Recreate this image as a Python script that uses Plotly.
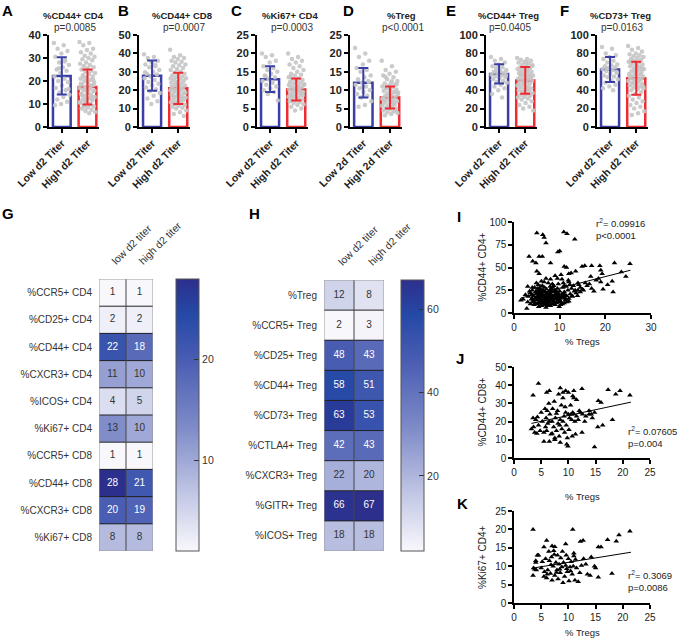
import plotly.graph_objects as go

W, H = 680, 639
FONT = "Liberation Sans, Arial, Helvetica, sans-serif"
BLUE = "#3A3EA5"
RED = "#EE2B31"
DOT = "#C5C5C5"
INK = "#222222"


def px(x):
    return x / W


def py(y):
    return (H - y) / H


# ---------------- data: bar panels A-F ----------------
bar_titles = ["%CD44+ CD4", "%CD44+ CD8", "%Ki67+ CD4", "%Treg", "%CD44+ Treg", "%CD73+ Treg"]
bar_pvals = ["p=0.0085", "p=0.0007", "p=0.0003", "p&lt;0.0001", "p=0.0405", "p=0.0163"]
bar_ticklabels = [
    ["Low d2 Titer", "High d2 Titer"],
    ["Low d2 Titer", "High d2 Titer"],
    ["Low d2 Titer", "High d2 Titer"],
    ["Low 2d Titer", "High 2d Titer"],
    ["Low d2 Titer", "High d2 Titer"],
    ["Low d2 Titer", "High d2 Titer"],
]
mean_low = [22.2, 27.9, 13.0, 12.0, 57.7, 62.5]
mean_high = [17.4, 21.0, 10.2, 8.0, 50.6, 53.0]
sd_low = [8.1, 8.2, 3.5, 4.0, 10.5, 13.5]
sd_high = [7.6, 8.5, 3.0, 3.0, 14.5, 18.0]
y_max = [40, 50, 25, 25, 100, 100]
y_dtick = [10, 10, 5, 5, 20, 20]

A_low = [36.5, 35.5, 34, 33, 32, 30.5, 29, 28, 27, 26, 25, 24.5, 23.5, 22, 21, 20, 19.5, 18, 17, 16, 15, 14, 13, 12, 11, 10, 9.5, 28.5, 25.5, 16.5]
A_high = [37, 36.5, 35.5, 34, 33.5, 32.5, 32, 31, 30.5, 30, 29.5, 29, 28, 27.5, 27, 26.5, 26, 25.5, 25, 24.5, 24, 23.5, 23, 22.5, 22, 21.5, 21, 20.5, 20, 19.5, 19, 18.5, 18, 17.5, 17, 16.5, 16, 15.5, 15, 14.5, 14, 13.5, 13, 12.5, 12, 11.5, 11, 10.5, 10, 9.5, 9, 8.5, 8, 7.5, 7, 6.5, 6, 21.8, 20.8, 19.8, 18.8, 17.8, 16.8, 15.8, 14.8, 13.8, 12.8, 11.8, 10.8, 9.8, 8.8, 18.3, 16.3, 14.3, 12.3, 10.3]
B_low = [39.5, 38, 37.5, 36, 35, 34, 33, 32.5, 31, 30, 29, 28.5, 27.5, 26.5, 25.5, 24.5, 23.5, 22.5, 21.5, 20.5, 19.5, 18.5, 17, 15.5, 14, 12.5, 29.8, 33.8]
B_high = [42, 39, 38, 37.5, 37, 36, 35.5, 35, 34, 33.5, 33, 32, 31.5, 31, 30, 29.5, 29, 28.5, 28, 27.5, 27, 26.5, 26, 25.5, 25, 24.5, 24, 23.5, 23, 22.5, 22, 21.5, 21, 20.5, 20, 19.5, 19, 18.5, 18, 17.5, 17, 16.5, 16, 15.5, 15, 14.5, 14, 13.5, 13, 12.5, 12, 11.5, 11, 10.5, 10, 9, 8, 7, 6, 22.8, 21.8, 20.8, 19.8, 18.8, 17.8, 16.8, 15.8, 24.3, 26.3, 14.3, 12.8]
C_low = [20, 19.5, 19, 18, 17.5, 16.5, 16, 15.5, 15, 14.5, 14, 13.5, 13, 12.5, 12, 11.5, 11, 10.5, 10, 9.5, 9, 7.2, 12.2, 13.8]
C_high = [20, 19, 18.5, 18, 17.5, 17, 16.5, 16, 15.5, 15, 14.5, 14.2, 14, 13.5, 13.2, 13, 12.8, 12.5, 12.2, 12, 11.8, 11.5, 11.2, 11, 10.8, 10.5, 10.2, 10, 9.8, 9.5, 9.2, 9, 8.8, 8.5, 8.2, 8, 7.8, 7.5, 7.2, 7, 6.8, 6.5, 6.2, 6, 5.5, 5, 4.5, 11.4, 10.6, 9.6, 8.6, 12.6, 13.6, 9.4, 10.4, 11.6, 7.6, 8.4]
D_low = [21.5, 20, 19, 18, 17, 16, 15.5, 15, 14, 13.5, 13, 12.5, 12, 11.5, 11, 10.5, 10, 9.5, 9, 8.5, 8, 7, 6, 5.5, 12.2, 10.8]
D_high = [18, 16.5, 15.5, 15, 14.5, 14, 13.5, 13, 12.5, 12, 11.8, 11.5, 11.2, 11, 10.8, 10.5, 10.2, 10, 9.8, 9.5, 9.2, 9, 8.8, 8.5, 8.2, 8, 7.8, 7.5, 7.2, 7, 6.8, 6.5, 6.2, 6, 5.8, 5.5, 5.2, 5, 4.8, 4.5, 4.2, 4, 3.8, 3.5, 3.2, 9.6, 8.6, 7.6, 6.6, 10.6, 11.6, 8.4, 7.4, 6.4, 5.4, 9.4, 12.4, 13.6, 4.6]
E_low = [76, 74, 72, 70, 68, 66, 65, 64, 62, 61, 60, 59, 58, 57, 56, 55, 54, 53, 52, 50, 49, 48, 46, 44, 42, 40, 36, 32, 60.5, 56.5]
E_high = [75, 74, 73, 72, 71, 70, 69, 68, 67, 66, 65, 64, 63.5, 63, 62, 61, 60, 59, 58.5, 58, 57, 56, 55.5, 55, 54, 53, 52.5, 52, 51, 50, 49, 48, 47, 46, 45, 44, 43, 42, 41, 40, 39, 38, 37, 36, 35, 34, 33, 32, 31, 30, 28, 26, 24, 22, 20, 18, 61.5, 57.5, 53.5, 49.5, 45.5, 41.5, 37.5, 66.5, 70.5, 59.5, 55.2, 47.5]
F_low = [87, 85, 80, 78, 76, 74, 72, 70, 68, 67, 66, 65, 64, 63, 62, 61, 60, 58, 56, 55, 54, 52, 50, 48, 46, 44, 42, 40, 63.5, 59]
F_high = [88, 86, 84, 82, 80, 79, 78, 77, 76, 75, 74, 73, 72, 71, 70, 69, 68, 67, 66, 65, 64, 63, 62, 61, 60, 59, 58, 57, 56, 55, 54, 53, 52, 51, 50, 49, 48, 47, 46, 45, 44, 43, 42, 41, 40, 38, 36, 34, 32, 30, 28, 26, 24, 22, 20, 17, 15, 13, 63.5, 59.5, 55.5, 51.5, 47.5, 43.5, 66.5, 70.5, 57.5, 61.8]
points_low = [A_low, B_low, C_low, D_low, E_low, F_low]
points_high = [A_high, B_high, C_high, D_high, E_high, F_high]

# ---------------- data: heatmaps G, H ----------------
heat_cols = ["low d2 titer", "high d2 titer"]
G_rows = ["%CCR5+ CD4", "%CD25+ CD4", "%CD44+ CD4", "%CXCR3+ CD4", "%ICOS+ CD4",
          "%Ki67+ CD4", "%CCR5+ CD8", "%CD44+ CD8", "%CXCR3+ CD8", "%Ki67+ CD8"]
G_low = [1, 2, 22, 11, 4, 13, 1, 28, 20, 8]
G_high = [1, 2, 18, 10, 5, 10, 1, 21, 19, 8]
G_ticks = [10, 20]
H_rows = ["%Treg", "%CCR5+ Treg", "%CD25+ Treg", "%CD44+ Treg", "%CD73+ Treg",
          "%CTLA4+ Treg", "%CXCR3+ Treg", "%GITR+ Treg", "%ICOS+ Treg"]
H_low = [12, 2, 48, 58, 63, 42, 22, 66, 18]
H_high = [8, 3, 43, 51, 53, 43, 20, 67, 18]
H_ticks = [20, 40, 60]

# ---------------- data: scatter panels I, J, K ----------------
I_x = [5, 6.3, 6.6, 7, 10.9, 11.6, 13.3, 9.6, 10, 3.3, 4.1, 5.5, 6.2, 4.8, 8, 11, 11.5, 14.9, 15.5, 17, 18.8, 22, 25.4, 19, 19.3, 13.5, 10.3, 12, 12.5, 9, 5, 5.5, 7, 8, 3, 4, 6, 9.5, 10.5, 14, 14.5, 15, 16, 16.5, 17, 18, 19, 19.5, 21.5, 21.7, 14, 13, 12, 11, 2, 2.5, 1.5, 3, 2.8, 7, 8, 9, 10, 11, 12,
       3.2, 3.5, 3.8, 4.0, 4.1, 4.3, 4.5, 4.6, 4.8, 5.0, 5.0, 5.1, 5.2, 5.3, 5.4, 5.5, 5.6, 5.7, 5.8, 5.9, 6.0, 6.0, 6.1, 6.2, 6.3, 6.4, 6.5, 6.6, 6.7, 6.8, 6.9, 7.0, 7.0, 7.1, 7.2, 7.3, 7.4, 7.5, 7.5, 7.6, 7.7, 7.8, 7.9, 8.0, 8.1, 8.2, 8.3, 8.4, 8.5, 8.6, 8.7, 8.8, 8.9, 9.0, 9.1, 9.2, 9.3, 9.4, 9.5, 9.6, 9.8, 10.0, 10.1, 10.3, 10.5, 10.7, 10.9, 11.0, 11.2, 11.5, 11.8, 12.0, 12.3,
       6.2, 6.8, 7.3, 5.6, 8.1, 7.8, 6.5, 5.2, 4.7, 9.5, 8.8, 7.1, 6.1, 5.4, 4.4, 3.6, 10.2, 9.7, 6.6, 5.8, 4.9, 3.9, 7.9, 8.4, 11.4, 12.6, 13.2, 12.8, 11.6, 10.6, 9.9, 13.6, 14.5, 15.2, 13.9, 10.8, 11.9, 12.2,
       4.2, 4.9, 5.3, 5.7, 6.1, 6.4, 6.9, 7.2, 7.6, 8.0, 8.3, 8.7, 9.1, 9.4, 9.9, 10.4, 10.8, 11.3, 5.1, 5.9, 6.3, 6.7, 7.4, 7.9, 8.2, 8.6, 9.0, 9.8, 10.6, 11.1, 4.6, 5.5, 6.0, 6.8, 7.7, 8.5, 9.3, 10.0, 3.4, 4.0, 12.7, 13.4, 14.2, 15.6, 16.8, 17.5, 18.5, 20.5, 23.5, 24.5]
I_y = [88, 86, 83, 77, 89, 87, 81, 67, 68, 62, 57, 62, 62, 55, 55, 51, 50, 51, 52, 52, 52, 55, 54, 47, 43, 46, 42, 43, 44, 41, 46, 43, 38, 37, 29, 28, 35, 38, 37, 33, 28, 26, 30, 32, 27, 36, 34, 26, 35, 23, 25, 30, 34, 30, 15, 20, 14, 12, 5, 6, 8, 9, 14, 11, 13,
       18, 22, 15, 25, 12, 19, 28, 16, 21, 10, 14, 24, 18, 31, 12, 20, 27, 15, 22, 9, 17, 25, 13, 30, 19, 11, 23, 16, 28, 14, 20, 10, 18, 26, 13, 22, 16, 33, 8, 19, 24, 12, 17, 21, 27, 14, 10, 19, 23, 16, 30, 12, 20, 25, 15, 18, 11, 22, 27, 14, 19, 24, 16, 12, 21, 28, 17, 23, 14, 19, 25, 16, 21,
       20.5, 17.5, 15, 18.5, 18.2, 21.5, 13.5, 16.5, 23, 17, 24, 11.5, 8, 7, 9, 10, 9, 32, 34, 29, 33, 20.5, 29, 32, 29, 27, 24, 18, 12, 10, 7, 22, 23, 25, 19, 33, 36, 31,
       14, 17, 22, 11, 19, 25, 14, 21, 10, 17, 24, 13, 19, 23, 12, 18, 21, 16, 27, 13, 23, 9, 18, 15, 26, 11, 20, 21, 17, 20, 11, 24, 15, 23, 13, 28, 17, 12, 24, 16, 19, 25, 31, 33, 40, 24, 38, 31, 45, 40]
I_fit_x = [1.5, 25.5]
I_fit_y = [16.5, 47]

J_x = [4.5, 3.5, 6, 6.5, 8.5, 9, 9.5, 10, 11, 12.5, 17.3, 18.7, 19.5, 21.3, 15.5, 16, 18.1, 14.8, 9.9, 9.7, 5.5, 6.5, 7.5, 8.5, 10.7, 11.3, 12.5, 13, 13.8, 14.4, 14.8, 15.4, 16.3, 12, 11.5, 11, 10.5, 10.8,
       3.2, 3.5, 3.8, 4.0, 4.2, 4.5, 4.8, 5.0, 5.2, 5.5, 5.7, 5.9, 6.0, 6.2, 6.4, 6.6, 6.8, 7.0, 7.1, 7.3, 7.5, 7.6, 7.8, 8.0, 8.1, 8.3, 8.5, 8.7, 8.8, 9.0, 9.2, 9.3, 9.5, 9.6, 9.8, 10.0, 10.2, 10.4, 10.6, 10.8, 11.0, 11.2, 11.5, 11.8, 12.2, 12.6, 13.2, 13.8, 14.2, 7.0, 6.5, 5.8, 8.4, 7.8, 9.0, 10.1, 3.6, 4.3, 6.1, 9.4, 7.4, 8.2]
J_y = [41, 34.5, 36, 37, 38.5, 36, 37, 36, 37, 38, 37.5, 35, 37, 34.5, 31.5, 30.5, 21, 6, 6.5, 7.5, 9, 9, 10, 8.5, 12, 13, 14, 20, 24, 22, 25, 17, 18, 26, 32, 33, 24, 25,
       16, 22, 14, 21, 13.5, 18, 15, 25, 20, 14, 27, 22, 15, 19, 30, 24, 13, 20, 27, 17, 11, 22, 15, 26, 19, 12, 21, 29, 16, 33, 23, 14, 25, 18, 11, 24, 22, 29, 21, 34, 24, 20, 23, 21, 25, 24, 23, 26, 24, 13.5, 20, 17, 18, 24.5, 20, 15.5, 17, 22.5, 26, 28, 31, 35]
J_fit_x = [3.2, 21.5]
J_fit_y = [19, 30.7]

K_x = [3.5, 10.8, 21.3, 19.3, 18.8, 17.2, 15.5, 16, 12.2, 12.7, 14.2, 14.8, 15, 15.5, 14, 18, 6, 7, 7.5, 5.5, 9.5, 11, 11.3, 4.3, 4, 3.5, 3.8, 4.1,
       3.6, 4.0, 4.5, 5.0, 5.2, 5.5, 5.8, 6.0, 6.2, 6.4, 6.5, 6.7, 6.9, 7.0, 7.2, 7.4, 7.5, 7.7, 7.9, 8.0, 8.1, 8.3, 8.5, 8.6, 8.8, 9.0, 9.1, 9.3, 9.5, 9.6, 9.8, 10.0, 10.1, 10.3, 10.5, 10.7, 10.9, 11.2, 11.5, 11.8, 12.1, 12.4, 12.8, 13.2, 13.5, 7.8, 8.4, 6.8, 9.7, 10.4, 7.3, 8.9, 11.0, 6.1, 5.6]
K_y = [20, 20, 19.5, 18.5, 16.8, 17.2, 15.2, 15.2, 16.7, 17, 12.5, 10, 9.5, 7, 7.5, 8, 17, 15.5, 15.3, 15.2, 16, 13.5, 11.8, 13, 11, 7.5, 9.2, 9,
       9.5, 11.5, 13, 9.5, 11.2, 7.2, 12, 6.8, 9, 14, 11.5, 8, 12.5, 6.2, 10, 13.2, 7.5, 11, 9, 13, 6.5, 10.5, 8.2, 12.2, 9.8, 5.5, 11, 7.2, 10.2, 13, 8.5, 12, 6, 9.8, 11.2, 7.8, 10, 6.2, 9.5, 5.8, 8.2, 10.2, 12, 10.5, 7.8, 8.3, 9.2, 10.4, 9.3, 8.7, 14.2, 14, 12.8, 7.8, 8.5]
K_fit_x = [3.5, 21.5]
K_fit_y = [9.5, 13.8]

colorscale = [[0.0, "#F8F8FC"], [0.2, "#C4C9E6"], [0.45, "#7F8CC8"],
              [0.7, "#4A5DB3"], [0.87, "#2549A6"], [1.0, "#2D2F8C"]]

fig = go.Figure()
layout = {}
annotations = []
shapes = []


def note(x, y, text, size, color=INK, xanchor="center", yanchor="middle", **kw):
    annotations.append(dict(x=px(x), y=py(y), xref="paper", yref="paper", text=text,
                            showarrow=False, xanchor=xanchor, yanchor=yanchor,
                            font=dict(family=FONT, size=size, color=color), **kw))


# ---------------- bar panels ----------------
bar_xdom = [(49, 99), (139, 190), (257, 308), (350, 402), (486, 537), (597, 648)]
title_cx = [73, 182, 290, 401, 508, 620]
letters_top = [("A", 7), ("B", 123), ("C", 236), ("D", 348), ("E", 451), ("F", 564)]


def jitter(n, spread=0.62):
    return [((i * 0.618034) % 1.0 - 0.5) * spread for i in range(n)]


for k in range(6):
    n = k + 1
    xa = "x" if n == 1 else f"x{n}"
    ya = "y" if n == 1 else f"y{n}"
    fig.add_trace(go.Bar(
        x=[0, 1], y=[mean_low[k], mean_high[k]], width=0.69,
        marker=dict(color="white", line=dict(color=[BLUE, RED], width=2.5)),
        xaxis=xa, yaxis=ya, hoverinfo="skip"))
    for g, pts in enumerate([points_low[k], points_high[k]]):
        off = jitter(len(pts))
        fig.add_trace(go.Scatter(
            x=[g + o for o in off], y=pts, mode="markers",
            marker=dict(color=DOT, size=4.5, opacity=0.9),
            xaxis=xa, yaxis=ya, hoverinfo="skip"))
    for g, (m, s, c) in enumerate([(mean_low[k], sd_low[k], BLUE), (mean_high[k], sd_high[k], RED)]):
        fig.add_trace(go.Scatter(
            x=[g], y=[m], mode="markers", marker=dict(size=1, color="rgba(0,0,0,0)"),
            error_y=dict(type="data", array=[s], color=c, thickness=2, width=5),
            xaxis=xa, yaxis=ya, hoverinfo="skip"))
    x0, x1 = bar_xdom[k]
    layout["xaxis" if n == 1 else f"xaxis{n}"] = dict(
        domain=[px(x0), px(x1)], range=[-0.5, 1.45], anchor=ya,
        tickvals=[0, 1], ticktext=bar_ticklabels[k], tickangle=-45,
        showline=True, linecolor="black", linewidth=2, ticks="outside",
        ticklen=4, tickwidth=1.5, tickcolor="black", showgrid=False, zeroline=False,
        tickfont=dict(family=FONT, size=10.5, color=INK, weight="bold"), automargin=False)
    layout["yaxis" if n == 1 else f"yaxis{n}"] = dict(
        domain=[py(127), py(35)], range=[0, y_max[k]], dtick=y_dtick[k], anchor=xa,
        showline=True, linecolor="black", linewidth=2, ticks="outside",
        ticklen=4, tickwidth=1.5, tickcolor="black", showgrid=False, zeroline=False,
        tickfont=dict(family=FONT, size=11, color=INK, weight="bold"), automargin=False)
    note(title_cx[k], 15, f"<b>{bar_titles[k]}</b>", 9.5)
    note(title_cx[k] + 2, 28, bar_pvals[k], 10, color="#333")
    lt, lx = letters_top[k]
    note(lx, 10, f"<b>{lt}</b>", 15, color="black")


# ---------------- heatmaps ----------------
def add_heat(n, rows, low, high, ticks, xdom, ytop, ybot, cbx, cbtop, cbbot):
    xa, ya = f"x{n}", f"y{n}"
    z = [[a, b] for a, b in zip(low, high)]
    zmin = min(low + high)
    zmax = max(low + high)
    nr = len(rows)
    fig.add_trace(go.Heatmap(
        z=z, x=[0, 1], y=list(range(nr)), colorscale=colorscale, zmin=zmin, zmax=zmax,
        xaxis=xa, yaxis=ya, hoverinfo="skip",
        colorbar=dict(x=px(cbx), xanchor="left", xpad=0, y=py((cbtop + cbbot) / 2),
                      yanchor="middle", ypad=0, len=(cbbot - cbtop) / H, lenmode="fraction",
                      thickness=23, thicknessmode="pixels", outlinewidth=1, outlinecolor="#555",
                      ticks="inside", ticklen=5, tickcolor="#333", tickvals=ticks,
                      tickfont=dict(family=FONT, size=10.5, color="#333"))))
    # matching tick marks on the left edge of the colour bar
    for v in ticks:
        yy = cbbot - (v - zmin) / (zmax - zmin) * (cbbot - cbtop)
        shapes.append(dict(type="line", xref="paper", yref="paper", x0=px(cbx), x1=px(cbx + 5),
                           y0=py(yy), y1=py(yy), line=dict(color="#333", width=1)))
    tx, ty, tt, tc = [], [], [], []
    for i in range(nr):
        for j, v in enumerate([low[i], high[i]]):
            tx.append(j)
            ty.append(i)
            tt.append(str(v))
            tc.append("white" if (v - zmin) / (zmax - zmin) > 0.55 else "#333")
    fig.add_trace(go.Scatter(x=tx, y=ty, text=tt, mode="text", textposition="middle center",
                             textfont=dict(family=FONT, size=10, color=tc),
                             xaxis=xa, yaxis=ya, hoverinfo="skip"))
    layout[f"xaxis{n}"] = dict(domain=[px(xdom[0]), px(xdom[1])], range=[-0.5, 1.5], anchor=ya,
                               side="top", tickvals=[0, 1], ticktext=heat_cols, tickangle=-45,
                               ticks="outside", ticklen=7, tickcolor="rgba(0,0,0,0)",
                               showline=False, showgrid=False, zeroline=False,
                               tickfont=dict(family=FONT, size=10.5, color="#333"), automargin=False)
    layout[f"yaxis{n}"] = dict(domain=[py(ybot), py(ytop)], range=[nr - 0.5, -0.5], anchor=xa,
                               tickvals=list(range(nr)), ticktext=rows,
                               ticks="outside", ticklen=4, tickcolor="rgba(0,0,0,0)",
                               showline=False, showgrid=False, zeroline=False,
                               tickfont=dict(family=FONT, size=10, color="#333"), automargin=False)
    for i in range(nr - 1):
        shapes.append(dict(type="line", xref=xa, yref=ya, x0=-0.5, x1=1.5, y0=i + 0.5, y1=i + 0.5,
                           line=dict(color="#222", width=1)))
    shapes.append(dict(type="line", xref=xa, yref=ya, x0=0.5, x1=0.5, y0=-0.5, y1=nr - 0.5,
                       line=dict(color="#444", width=1)))
    shapes.append(dict(type="rect", xref=xa, yref=ya, x0=-0.5, x1=1.5, y0=-0.5, y1=nr - 0.5,
                       line=dict(color="#999", width=1)))


add_heat(7, G_rows, G_low, G_high, G_ticks, (99, 153), 279, 551, 176, 279, 551)
add_heat(8, H_rows, H_low, H_high, H_ticks, (324, 384), 280, 551, 401, 280, 551)
note(8, 213, "<b>G</b>", 15, color="black")
note(254, 213, "<b>H</b>", 15, color="black")


# ---------------- scatter panels ----------------
def add_scatter(n, xs, ys, fx, fy, xr, xd, yr, yd, xdom, ytop, ybot, ytitle, xt_y,
                stat_txt, stat_pos, letter, lx, ly):
    xa, ya = f"x{n}", f"y{n}"
    fig.add_trace(go.Scatter(x=xs, y=ys, mode="markers",
                             marker=dict(symbol="triangle-up", size=5, color="black"),
                             xaxis=xa, yaxis=ya, hoverinfo="skip", cliponaxis=False))
    fig.add_trace(go.Scatter(x=fx, y=fy, mode="lines", line=dict(color="black", width=1),
                             xaxis=xa, yaxis=ya, hoverinfo="skip"))
    common = dict(showline=True, linecolor="black", linewidth=1.5, ticks="outside", ticklen=4,
                  tickwidth=1.5, tickcolor="black", showgrid=False, zeroline=False,
                  tickfont=dict(family=FONT, size=10, color=INK), automargin=False)
    layout[f"xaxis{n}"] = dict(domain=[px(xdom[0]), px(xdom[1])], range=xr, dtick=xd,
                               anchor=ya, **common)
    layout[f"yaxis{n}"] = dict(domain=[py(ybot), py(ytop)], range=yr, dtick=yd,
                               anchor=xa, **common)
    note(482, (ytop + ybot) / 2, ytitle, 10, textangle=-90)
    note((xdom[0] + xdom[1]) / 2, xt_y, "% Tregs", 9.5)
    sx, sy, sanchor = stat_pos
    note(sx, sy, stat_txt, 9.5, xanchor=sanchor, yanchor="top", align="left")
    note(lx, ly, f"<b>{letter}</b>", 15, color="black")


add_scatter(9, I_x, I_y, I_fit_x, I_fit_y, [0, 30], 10, [0, 100], 25, (514, 651), 222, 313,
            "%CD44+ CD4+", 342, "r<sup>2</sup>= 0.09916<br>p&lt;0.0001", (594, 215, "left"), "I", 459, 216)
add_scatter(10, J_x, J_y, J_fit_x, J_fit_y, [0, 25], 5, [0, 50], 10, (514, 650), 367, 458,
            "%CD44+ CD8+", 496, "r<sup>2</sup>= 0.07605<br>p=0.004", (679, 423, "right"), "J", 460, 358)
add_scatter(11, K_x, K_y, K_fit_x, K_fit_y, [0, 25], 5, [0, 25], 5, (514, 650), 511, 603,
            "%Ki67+ CD4+", 632, "r<sup>2</sup>= 0.3069<br>p=0.0086", (674, 567, "right"), "K", 462, 503)

fig.update_layout(
    width=W, height=H, margin=dict(l=0, r=0, t=0, b=0), template="none",
    paper_bgcolor="white", plot_bgcolor="white", showlegend=False,
    font=dict(family=FONT, color=INK), annotations=annotations, shapes=shapes,
    barmode="overlay", **layout)

fig.write_html("out.html", config={"displayModeBar": False},
               post_script="document.body.style.margin='0';document.body.style.overflow='hidden';")
